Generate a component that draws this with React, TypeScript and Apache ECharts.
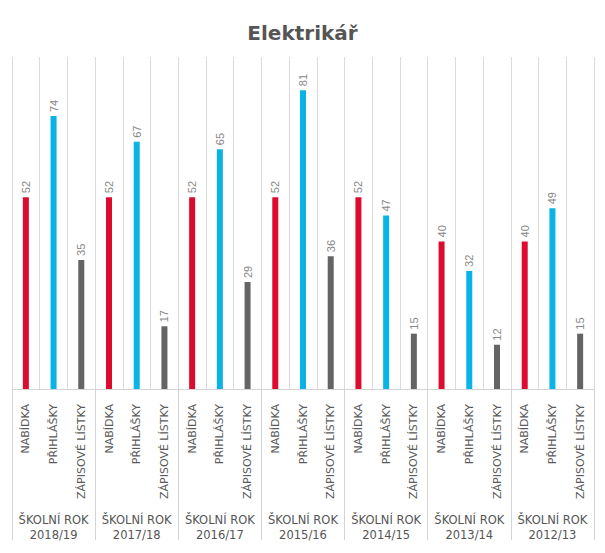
import React, { useEffect, useRef } from "react";
import * as echarts from "echarts";

const years = ["2018/19", "2017/18", "2016/17", "2015/16", "2014/15", "2013/14", "2012/13"];
const barNames = ["NABÍDKA", "PŘIHLÁŠKY", "ZÁPISOVÉ LÍSTKY"];
const nabidka = [52, 52, 52, 52, 52, 40, 40];
const prihlasky = [74, 67, 65, 81, 47, 32, 49];
const zapisove = [35, 17, 29, 36, 15, 12, 15];
const barColors = ["#dc0b2f", "#0ab3e6", "#646464"];

export default function App() {
  const ref = useRef<HTMLDivElement>(null);
  useEffect(() => {
    if (!ref.current) return;
    const chart = echarts.init(ref.current, null, { renderer: "svg" });
    const cats: string[] = [];
    const data: any[] = [];
    const seriesVals = [nabidka, prihlasky, zapisove];
    years.forEach((y, yi) => {
      barNames.forEach((n, bi) => {
        cats.push(y + "|" + n);
        data.push({ value: seriesVals[bi][yi], itemStyle: { color: barColors[bi] } });
      });
    });
    chart.setOption({
      animation: false,
      title: {
        text: "Elektrikář",
        left: "center",
        top: 18,
        textStyle: { fontFamily: "DejaVu Sans", fontWeight: "bold", fontSize: 20, color: "#555" },
      },
      grid: { left: 12, right: 11, top: 57, bottom: 164 },
      xAxis: [
        {
          type: "category",
          data: cats,
          axisLine: { show: true, lineStyle: { color: "#d4d4d4" } },
          axisTick: { show: false },
          splitLine: { show: true, interval: 0, lineStyle: { color: "#dadada", width: 1 } },
          axisLabel: {
            interval: 0,
            rotate: 90,
            margin: 15,
            color: "#5a5a5a",
            fontFamily: "DejaVu Sans",
            fontSize: 11,
            formatter: (v: string) => v.split("|")[1],
          },
        },
        {
          type: "category",
          data: years,
          position: "bottom",
          axisLine: { show: false },
          axisTick: { show: true, length: 151, lineStyle: { color: "#d4d4d4" } },
          splitLine: { show: false },
          axisLabel: {
            interval: 0,
            margin: 123,
            color: "#555",
            fontFamily: "DejaVu Sans",
            fontSize: 11.5,
            lineHeight: 15,
            formatter: (v: string) => "ŠKOLNÍ ROK\n" + v,
          },
        },
      ],
      yAxis: { type: "value", min: 0, max: 90, show: false, splitLine: { show: false } },
      series: [
        {
          type: "bar",
          xAxisIndex: 0,
          data,
          barWidth: 6,
          label: {
            show: true,
            position: "top",
            rotate: 90,
            align: "left",
            verticalAlign: "middle",
            distance: 4,
            color: "#888",
            fontFamily: "Liberation Sans",
            fontSize: 11,
          },
        },
      ],
    });
    return () => chart.dispose();
  }, []);
  return <div ref={ref} style={{ width: 605, height: 553, margin: -8 }} />;
}
